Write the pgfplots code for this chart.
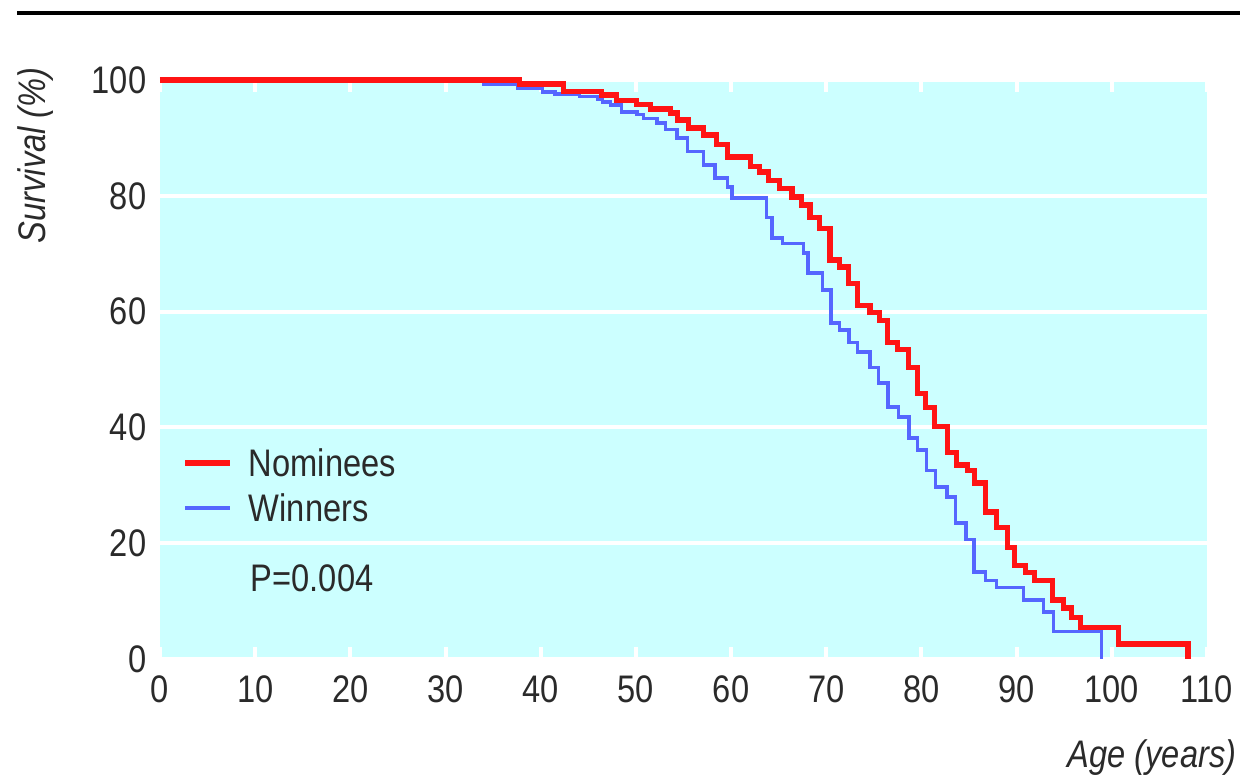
\documentclass[border=0pt]{standalone}
\usepackage{fontspec}
\setmainfont{Liberation Sans}[FakeStretch=0.85]
\usepackage{pgfplots}
\usepackage{pgfplotstable}
\pgfplotsset{compat=1.18}

\definecolor{bgcyan}{HTML}{CCFFFF}
\definecolor{nomred}{HTML}{FF1414}
\definecolor{winblue}{HTML}{5566FF}
\definecolor{txt}{HTML}{2A2A2A}

% Kaplan-Meier steps: age where the level starts, survival (%)
\pgfplotstableread{
age surv
0 100
37.8 99.3
42.4 98.0
46.4 97.4
48.0 96.5
50.1 95.7
51.5 95.0
53.6 94.3
54.4 93.1
55.5 91.7
57.1 90.5
58.5 88.8
59.6 86.7
62.0 85.0
63.0 84.1
63.9 82.7
65.1 81.3
66.4 79.8
67.4 78.4
68.3 76.3
69.3 74.4
70.4 68.9
71.4 67.7
72.3 64.9
73.3 61.1
74.6 59.8
75.6 58.5
76.4 54.6
77.5 53.4
78.6 50.4
79.6 45.9
80.4 43.4
81.4 40.1
82.7 35.6
83.7 33.5
84.8 32.6
85.6 30.4
86.7 25.4
87.9 22.7
89.0 19.3
89.8 16.2
90.9 14.9
91.9 13.6
93.8 10.2
94.9 8.8
95.8 7.1
96.7 5.5
100.7 2.6
108.0 0
}\nominees

\pgfplotstableread{
age surv
0 100
34.0 99.2
37.6 98.6
40.2 97.9
41.5 97.6
44.1 97.1
46.0 96.7
46.5 96.2
47.3 95.7
48.5 94.5
50.1 94.0
50.8 93.4
52.2 92.6
53.1 91.4
54.3 90.0
55.4 87.6
57.1 85.3
58.3 83.1
59.6 81.5
60.1 79.6
63.7 76.3
64.3 72.7
65.4 71.8
67.6 70.1
68.1 66.7
69.6 63.7
70.5 58.0
71.4 56.8
72.4 54.7
73.3 53.0
74.6 50.3
75.5 47.7
76.5 43.5
77.6 41.8
78.7 38.2
79.6 36.1
80.5 32.6
81.5 29.7
82.7 28.0
83.6 23.5
84.7 20.6
85.5 15.0
86.7 13.6
87.9 12.3
90.7 10.2
92.8 8.1
93.9 4.7
98.9 0
}\winners

\begin{document}
\begin{tikzpicture}[font=\fontsize{9.6}{11.5}\selectfont, text=txt]
\useasboundingbox (-40pt,-30.5pt) rectangle (270pt,164.75pt);
\draw[line width=1pt, black] (-35.75pt,161.5pt) -- (270pt,161.5pt);
\begin{axis}[
    at={(0pt,0pt)}, anchor=south west,
    scale only axis,
    width=261.75pt, height=144.75pt,
    xmin=0, xmax=110, ymin=0, ymax=100,
    xtick={0,10,...,110}, ytick={0,20,...,100},
    axis line style={draw=none},
    axis background/.style={fill=bgcyan},
    tick align=inside,
    major tick length=3pt,
    xtick style={white, line width=1pt},
    ytick style={draw=none},
    ymajorgrids,
    grid style={white, line width=1pt},
    clip=false,
    /pgf/number format/assume math mode=true,
    xticklabel style={anchor=north, inner sep=0pt, yshift=-4pt, text=txt},
    yticklabel style={anchor=east, inner sep=0pt, xshift=-3.25pt, text=txt},
    xlabel={\itshape Age (years)},
    ylabel={\itshape Survival (\%)},
    every axis x label/.style={at={(axis description cs:0.9475,-0.17)}, anchor=center, text=txt},
    every axis y label/.style={at={(axis description cs:-0.1184,0.87)}, rotate=90, anchor=center, text=txt},
    reverse legend,
    legend style={at={(axis cs:2.3,29.5)}, anchor=west, draw=none, fill=none,
        inner sep=0pt, row sep=2.8pt, column sep=4pt, nodes={inner sep=0pt, text=txt}},
    legend cell align=left,
    legend image code/.code={\draw[#1] (0pt,0.65pt) -- (11.25pt,0.65pt);},
]
\addplot[const plot, winblue, line width=0.85pt] table[x=age, y=surv] {\winners};
\addlegendentry{Winners}
\addplot[const plot, nomred, line width=1.3pt] table[x=age, y=surv] {\nominees};
\addlegendentry{Nominees}
\node[anchor=west, inner sep=0pt, text=txt] at (axis cs:9.46,14) {P=0.004};
\end{axis}
\end{tikzpicture}
\end{document}
